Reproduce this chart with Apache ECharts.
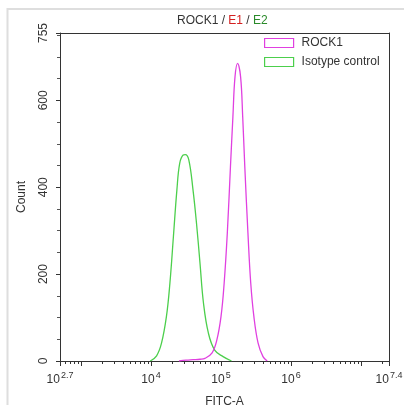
<!DOCTYPE html>
<html>
<head>
<meta charset="utf-8">
<script src="https://cdn.jsdelivr.net/npm/echarts@6/dist/echarts.min.js"></script>
<style>
  html, body { margin: 0; padding: 0; background: #fff; }
  #chart { width: 404px; height: 405px; }
</style>
</head>
<body>
<div id="chart"></div>
<script>
// FITC-A (log10 exponent) and counts
const rockX = [4.40, 4.50, 4.60, 4.70, 4.77, 4.87, 4.94, 5.00, 5.045, 5.09, 5.135, 5.17, 5.20, 5.237, 5.28, 5.31, 5.34, 5.385, 5.425, 5.47, 5.53, 5.60, 5.66];
const rockY = [0, 2, 3, 4, 6, 18, 48, 102, 179, 294, 447, 562, 654, 685, 654, 562, 447, 294, 179, 102, 41, 10, 0];
const isoX = [3.99, 4.08, 4.15, 4.22, 4.27, 4.32, 4.37, 4.41, 4.46, 4.49, 4.54, 4.60, 4.65, 4.70, 4.75, 4.82, 4.91, 5.03, 5.15];
const isoY = [0, 12, 41, 102, 179, 286, 394, 455, 474, 475, 463, 394, 317, 225, 133, 64, 25, 10, 0];
const seriesNames = ['ROCK1', 'Isotype control'];

// axis ticks / labels
const xLabelExps = [2.7, 4, 5, 6, 7.4];
const xMajorTickExps = [2.7, 3, 4, 5, 6, 7, 7.4];
const yMin = 0, yMax = 755, yInterval = 200;

const xMin = 2.7, xMax = 7.4;
const xMinorTickExps = [];
for (let d = 2; d <= 7; d++) {
  for (let k = 2; k <= 9; k++) {
    const v = Math.log10(k * Math.pow(10, d));
    if (v > xMin + 1e-6 && v < xMax - 1e-6) xMinorTickExps.push(v);
  }
}

const MAG = '#e040e0';
const GRN = '#4ccf4c';
const AXIS = '#333';
const FONT = 'Liberation Sans, Arial, sans-serif';

const chart = echarts.init(document.getElementById('chart'), null, { renderer: 'canvas' });
chart.setOption({
  animation: false,
  backgroundColor: '#fff',
  textStyle: { fontFamily: FONT },
  graphic: [{
    type: 'rect', silent: true, z: -10,
    shape: { x: 7.5, y: 9, width: 430, height: 430 },
    style: { fill: 'none', stroke: '#dedede', lineWidth: 2 }
  }],
  title: {
    left: 177, top: 15, padding: 0,
    text: '{a|ROCK1 / }{r|E1}{a| / }{g|E2}',
    textStyle: {
      fontSize: 12, fontWeight: 'normal',
      rich: {
        a: { fontSize: 12, color: '#333', fontFamily: FONT },
        r: { fontSize: 12, color: '#d42020', fontFamily: FONT },
        g: { fontSize: 12, color: '#2a8a2a', fontFamily: FONT }
      }
    }
  },
  legend: {
    orient: 'vertical', left: 264, top: 37, padding: 0,
    itemWidth: 29, itemHeight: 9, itemGap: 7,
    textStyle: { fontSize: 12, color: '#333', padding: [0, 0, 0, 3] },
    data: [
      { name: seriesNames[0], icon: 'rect', itemStyle: { color: 'rgba(0,0,0,0)', borderColor: MAG, borderWidth: 1.2 } },
      { name: seriesNames[1], icon: 'rect', itemStyle: { color: 'rgba(0,0,0,0)', borderColor: GRN, borderWidth: 1.2 } }
    ]
  },
  grid: { left: 60, right: 15, top: 33, bottom: 44, containLabel: false, outerBoundsMode: 'none' },
  xAxis: [{
    type: 'value', min: xMin, max: xMax,
    name: 'FITC-A', nameLocation: 'middle', nameGap: 35,
    nameTextStyle: { fontSize: 12, color: '#333' },
    axisLine: { show: true, lineStyle: { color: AXIS, width: 1 } },
    splitLine: { show: false },
    axisTick: { show: true, customValues: xMajorTickExps, length: 5, lineStyle: { color: AXIS } },
    axisLabel: {
      customValues: xLabelExps, margin: 10, color: '#333',
      formatter: function (v) {
        const e = Math.round(v * 10) / 10;
        return '{b|10}{s|' + e + '}';
      },
      rich: {
        b: { fontSize: 12, color: '#333' },
        s: { fontSize: 9, color: '#333', padding: [0, 0, 8, 1] }
      }
    }
  }, {
    type: 'value', min: xMin, max: xMax, position: 'bottom',
    axisLine: { show: false },
    splitLine: { show: false },
    axisTick: { show: true, customValues: xMinorTickExps, length: 3, lineStyle: { color: AXIS } },
    axisLabel: { show: false }
  }, {
    type: 'value', min: xMin, max: xMax, position: 'top',
    axisLine: { show: true, lineStyle: { color: AXIS } },
    axisTick: { show: false }, axisLabel: { show: false }, splitLine: { show: false }
  }],
  yAxis: [{
    type: 'value', min: yMin, max: yMax, interval: yInterval,
    name: 'Count', nameLocation: 'middle', nameGap: 32, nameRotate: 90,
    nameTextStyle: { fontSize: 12, color: '#333' },
    axisLine: { show: true, lineStyle: { color: AXIS } },
    splitLine: { show: false },
    axisTick: { show: true, length: 4, lineStyle: { color: AXIS } },
    minorTick: { show: true, splitNumber: 4, length: 3, lineStyle: { color: '#555' } },
    axisLabel: { rotate: 90, margin: 10, fontSize: 12, color: '#333', showMaxLabel: true }
  }, {
    type: 'value', min: yMin, max: yMax, position: 'right',
    axisLine: { show: true, lineStyle: { color: AXIS } },
    axisTick: { show: false }, axisLabel: { show: false }, splitLine: { show: false }
  }],
  series: [{
    name: seriesNames[0], type: 'line', smooth: 0.4, symbol: 'none',
    lineStyle: { color: MAG, width: 1.3 }, itemStyle: { color: MAG },
    data: rockX.map((x, i) => [x, rockY[i]]), z: 3
  }, {
    name: seriesNames[1], type: 'line', smooth: 0.4, symbol: 'none',
    lineStyle: { color: GRN, width: 1.3 }, itemStyle: { color: GRN },
    data: isoX.map((x, i) => [x, isoY[i]]), z: 2
  }]
});
</script>
</body>
</html>
